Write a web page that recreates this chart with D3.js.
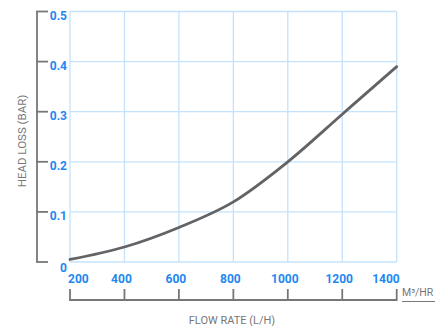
<!DOCTYPE html>
<html><head><meta charset="utf-8">
<script src="https://cdn.jsdelivr.net/npm/d3@7"></script>
<style>body{margin:0;background:#fff}svg{display:block;font-family:Roboto,"Noto Sans",sans-serif}</style>
</head><body><svg id="c" width="446" height="326"></svg>
<script>
const flowRates = [200, 400, 600, 800, 1000, 1200, 1400];
const headLoss = [0.005, 0.03, 0.069, 0.12, 0.2, 0.295, 0.39];
const xTicks = [200, 400, 600, 800, 1000, 1200, 1400];
const yTicks = [0, 0.1, 0.2, 0.3, 0.4, 0.5];
const yTickLabels = ["0", "0.1", "0.2", "0.3", "0.4", "0.5"];
const xTitle = "FLOW RATE (L/H)";
const yTitle = "HEAD LOSS (BAR)";
const unitLabel = "M³/HR";

const svg = d3.select("#c");
const x = d3.scaleLinear().domain([200, 1400]).range([70, 396.7]);
const y = d3.scaleLinear().domain([0, 0.5]).range([262, 11.5]);
const blue = "#1e88f0", grid = "#c4e2fb", grey = "#777";

// grid
svg.append("g").selectAll("line.v").data(xTicks).join("line")
  .attr("x1", d => x(d)).attr("x2", d => x(d)).attr("y1", y(0.5)).attr("y2", y(0))
  .attr("stroke", grid).attr("stroke-width", 1.3);
svg.append("g").selectAll("line.h").data(yTicks).join("line")
  .attr("x1", x(200)).attr("x2", x(1400)).attr("y1", d => y(d)).attr("y2", d => y(d))
  .attr("stroke", grid).attr("stroke-width", 1.3);

// y bracket axis
const ya = svg.append("g");
ya.append("line").attr("x1", 37).attr("x2", 37).attr("y1", y(0.5)).attr("y2", y(0))
  .attr("stroke", grey).attr("stroke-width", 1.8);
ya.selectAll("line.t").data(yTicks).join("line")
  .attr("x1", 36.1).attr("x2", 48).attr("y1", d => y(d)).attr("y2", d => y(d))
  .attr("stroke", grey).attr("stroke-width", 1.8);
ya.selectAll("text").data(yTicks).join("text")
  .attr("x", 67).attr("y", d => y(d) + (d === 0 ? 10 : 8))
  .attr("text-anchor", "end").attr("fill", blue).attr("font-size", 12).attr("font-weight", "bold")
  .text((d, i) => yTickLabels[i]);

// x labels
svg.append("g").selectAll("text").data(xTicks).join("text")
  .attr("x", (d, i) => i === 0 ? x(d) - 2 : i === xTicks.length - 1 ? x(d) + 3 : x(d) - 3)
  .attr("y", 283)
  .attr("text-anchor", (d, i) => i === 0 ? "start" : i === xTicks.length - 1 ? "end" : "middle")
  .attr("fill", blue).attr("font-size", 12).attr("font-weight", "bold")
  .text(d => d);

// x bracket axis
const xa = svg.append("g");
xa.append("line").attr("x1", x(200)).attr("x2", x(1400)).attr("y1", 300).attr("y2", 300)
  .attr("stroke", grey).attr("stroke-width", 1.8);
xa.selectAll("line.t").data(xTicks).join("line")
  .attr("x1", d => x(d)).attr("x2", d => x(d)).attr("y1", 289).attr("y2", 300.9)
  .attr("stroke", grey).attr("stroke-width", 1.8);

// unit
svg.append("text").attr("x", 402).attr("y", 295.5).attr("fill", grey).attr("font-size", 10.5).text(unitLabel);
svg.append("line").attr("x1", 402).attr("x2", 435).attr("y1", 301.5).attr("y2", 301.5).attr("stroke", grey).attr("stroke-width", 1);

// titles
svg.append("text").attr("x", 232).attr("y", 324).attr("text-anchor", "middle")
  .attr("fill", grey).attr("font-size", 11).text(xTitle);
svg.append("text").attr("transform", "translate(26,141) rotate(-90)").attr("text-anchor", "middle")
  .attr("fill", grey).attr("font-size", 11.5).text(yTitle);

// curve
const line = d3.line().x((d, i) => x(flowRates[i])).y(d => y(d)).curve(d3.curveMonotoneX);
svg.append("path").datum(headLoss).attr("d", line).attr("fill", "none")
  .attr("stroke", "#626366").attr("stroke-width", 2.8).attr("stroke-linecap", "round");
</script></body></html>
